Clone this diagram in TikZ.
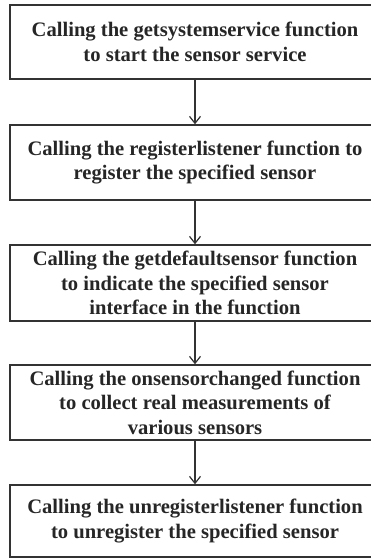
\documentclass[tikz,border=0pt]{standalone}
\usepackage{fontspec}
\setmainfont{Liberation Serif}
\usetikzlibrary{positioning}
\usetikzlibrary{arrows.meta}

\begin{document}
\begin{tikzpicture}[x=1pt, y=-1pt,
    stepbox/.style={draw=black!80, line width=1.4pt, minimum width=370pt, align=center,
        inner sep=1pt, text=black!85, font=\fontsize{20.6}{24.5}\selectfont\bfseries},
    flow/.style={-{Straight Barb[length=7pt,width=11pt]}, line width=1.2pt, draw=black!80}]
    \useasboundingbox (0,0) rectangle (371,559);

    % Steps of the sensor program
    \node[stepbox, minimum height=74pt] (getservice) at (195,42)
        {Calling the getsystemservice function\\to start the sensor service};
    \node[stepbox, minimum height=75pt] (register) at (195,162.5)
        {Calling the registerlistener function to\\register the specified sensor};
    \node[stepbox, minimum height=76pt] (getdefault) at (195,283)
        {Calling the getdefaultsensor function\\to indicate the specified sensor\\interface in the function};
    \node[stepbox, minimum height=75pt] (onchanged) at (195,402.5)
        {Calling the onsensorchanged function\\to collect real measurements of\\various sensors};
    \node[stepbox, minimum height=72pt] (unregister) at (195,521)
        {Calling the unregisterlistener function\\to unregister the specified sensor};

    % Arrows between steps
    \draw[flow] (getservice) -- (register);
    \draw[flow] (register) -- (getdefault);
    \draw[flow] (getdefault) -- (onchanged);
    \draw[flow] (onchanged) -- (unregister);
\end{tikzpicture}
\end{document}
